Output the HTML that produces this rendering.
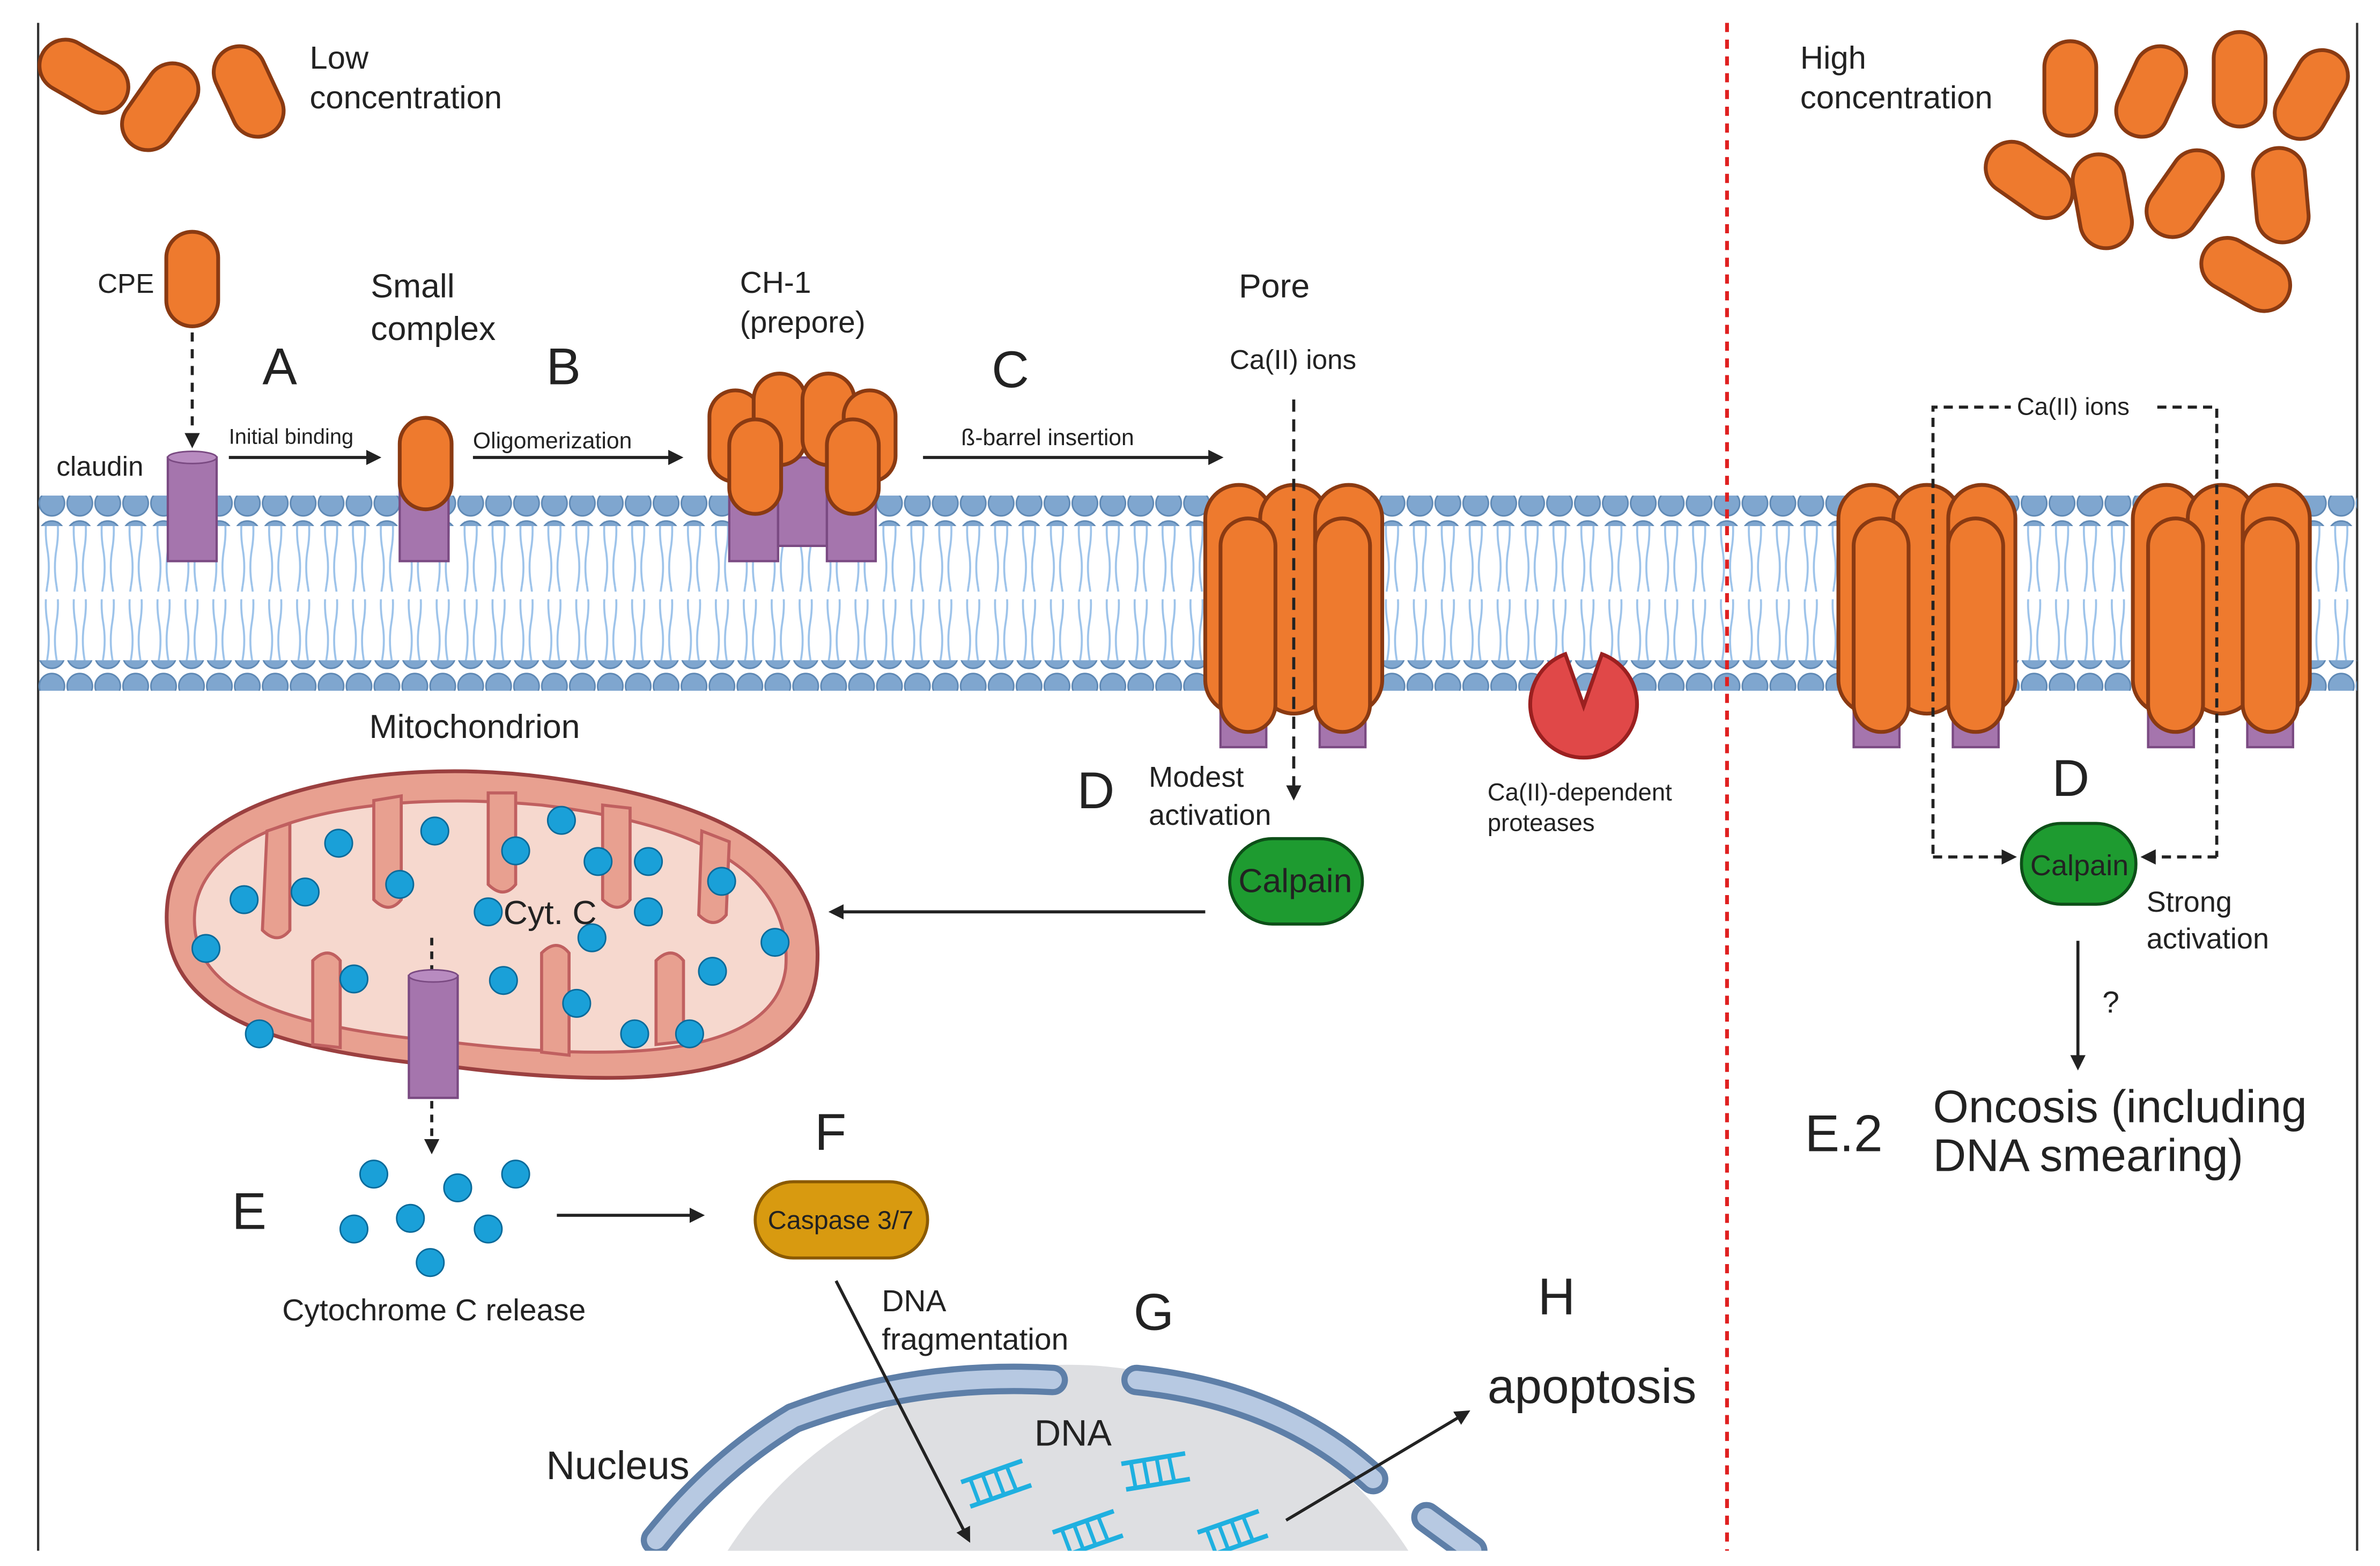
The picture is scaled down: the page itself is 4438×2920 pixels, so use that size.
<!DOCTYPE html>
<html><head><meta charset="utf-8"><style>
html,body{margin:0;padding:0;background:#fff;width:4438px;height:2920px;overflow:hidden;}
svg{display:block;overflow:hidden;}
text{font-family:"Liberation Sans",sans-serif;fill:#222;}
</style></head><body>
<svg width="4438" height="2920" viewBox="0 0 1560 1027" preserveAspectRatio="none" xmlns="http://www.w3.org/2000/svg">
<defs>
<pattern id="heads" x="25" y="0" width="18.3" height="20" patternUnits="userSpaceOnUse">
<circle cx="9" cy="10" r="8.3" fill="#7FA6CF" stroke="#5E88B4" stroke-width="1"/>
</pattern>
<pattern id="tails" x="25" y="0" width="18.3" height="48" patternUnits="userSpaceOnUse">
<path d="M6 0 Q4 12 6 24 T6 48 M12 0 Q14 12 12 24 T12 48" stroke="#9DC3EA" stroke-width="1.3" fill="none"/>
</pattern>
<marker id="ar" markerWidth="10" markerHeight="10" refX="8" refY="5" orient="auto" markerUnits="userSpaceOnUse">
<path d="M0 0 L10 5 L0 10 Z" fill="#222"/></marker>
<clipPath id="clip"><rect x="0" y="0" width="1560" height="1017"/></clipPath>
<g id="cap"><rect x="-17" y="-31" width="34" height="62" rx="17" fill="#EE7A2E" stroke="#8A3A12" stroke-width="2.5"/></g>
<g id="pore">
<rect x="10" y="120" width="30" height="52" fill="#A575AD" stroke="#7A4A82" stroke-width="1.5"/>
<rect x="75" y="120" width="30" height="52" fill="#A575AD" stroke="#7A4A82" stroke-width="1.5"/>
<rect x="0" y="0" width="44" height="150" rx="22" fill="#EE7A2E" stroke="#8A3A12" stroke-width="2.5"/>
<rect x="36" y="0" width="44" height="150" rx="22" fill="#EE7A2E" stroke="#8A3A12" stroke-width="2.5"/>
<rect x="72" y="0" width="44" height="150" rx="22" fill="#EE7A2E" stroke="#8A3A12" stroke-width="2.5"/>
<rect x="10" y="22" width="36" height="140" rx="18" fill="#EE7A2E" stroke="#8A3A12" stroke-width="2.5"/>
<rect x="72" y="22" width="36" height="140" rx="18" fill="#EE7A2E" stroke="#8A3A12" stroke-width="2.5"/>
</g>
<g id="dna"><path d="M0 0 L40 -14 M6 16 L46 2" stroke="#1FB0E0" stroke-width="3"/>
<path d="M6 -2 L12 14 M14 -5 L20 11 M22 -8 L28 8 M30 -10 L36 5" stroke="#1FB0E0" stroke-width="2.5"/></g>
</defs>
<rect width="1560" height="1027" fill="#fff"/>
<g clip-path="url(#clip)">
<line x1="25" y1="15" x2="25" y2="1017" stroke="#333" stroke-width="1.5"/>
<line x1="1545" y1="15" x2="1545" y2="1017" stroke="#333" stroke-width="1.5"/>
<rect x="25" y="342" width="1520" height="46" fill="url(#tails)"/>
<rect x="25" y="393" width="1520" height="44" fill="url(#tails)"/>
<rect x="25" y="325" width="1520" height="20" fill="url(#heads)"/>
<rect x="25" y="433" width="1520" height="20" fill="url(#heads)"/>
<line x1="1132" y1="15" x2="1132" y2="1017" stroke="#E02020" stroke-width="2.5" stroke-dasharray="6,5"/>

<use href="#cap" transform="translate(55,50) rotate(-60)"/>
<use href="#cap" transform="translate(105,70) rotate(35)"/>
<use href="#cap" transform="translate(163,60) rotate(-25)"/>
<text x="203" y="45" font-size="21">Low</text>
<text x="203" y="71" font-size="21">concentration</text>

<text x="64" y="192" font-size="18">CPE</text>
<use href="#cap" transform="translate(126,183)"/>
<line x1="126" y1="218" x2="126" y2="292" stroke="#222" stroke-width="2" stroke-dasharray="6,5" marker-end="url(#ar)"/>
<text x="37" y="312" font-size="18">claudin</text>
<rect x="110" y="300" width="32" height="68" fill="#A575AD" stroke="#7A4A82" stroke-width="1.5"/>
<ellipse cx="126" cy="300" rx="16" ry="4" fill="#B88BC0" stroke="#7A4A82"/>
<text x="172" y="252" font-size="34">A</text>
<text x="150" y="291" font-size="14">Initial binding</text>
<line x1="150" y1="300" x2="248" y2="300" stroke="#222" stroke-width="2" marker-end="url(#ar)"/>

<text x="243" y="195" font-size="22">Small</text>
<text x="243" y="223" font-size="22">complex</text>
<rect x="262" y="320" width="32" height="48" fill="#A575AD" stroke="#7A4A82" stroke-width="1.5"/>
<rect x="262" y="274" width="34" height="60" rx="17" fill="#EE7A2E" stroke="#8A3A12" stroke-width="2.5"/>
<text x="358" y="252" font-size="34">B</text>
<text x="310" y="294" font-size="15">Oligomerization</text>
<line x1="310" y1="300" x2="446" y2="300" stroke="#222" stroke-width="2" marker-end="url(#ar)"/>

<text x="485" y="192" font-size="20">CH-1</text>
<text x="485" y="218" font-size="20">(prepore)</text>
<rect x="478" y="310" width="32" height="58" fill="#A575AD" stroke="#7A4A82" stroke-width="1.5"/>
<rect x="510" y="300" width="32" height="58" fill="#A575AD" stroke="#7A4A82" stroke-width="1.5"/>
<rect x="542" y="310" width="32" height="58" fill="#A575AD" stroke="#7A4A82" stroke-width="1.5"/>
<rect x="465" y="256" width="34" height="60" rx="17" fill="#EE7A2E" stroke="#8A3A12" stroke-width="2.5"/>
<rect x="494" y="245" width="34" height="60" rx="17" fill="#EE7A2E" stroke="#8A3A12" stroke-width="2.5"/>
<rect x="526" y="245" width="34" height="60" rx="17" fill="#EE7A2E" stroke="#8A3A12" stroke-width="2.5"/>
<rect x="553" y="256" width="34" height="60" rx="17" fill="#EE7A2E" stroke="#8A3A12" stroke-width="2.5"/>
<rect x="478" y="275" width="34" height="62" rx="17" fill="#EE7A2E" stroke="#8A3A12" stroke-width="2.5"/>
<rect x="542" y="275" width="34" height="62" rx="17" fill="#EE7A2E" stroke="#8A3A12" stroke-width="2.5"/>
<text x="650" y="254" font-size="34">C</text>
<text x="630" y="292" font-size="15">ß-barrel insertion</text>
<line x1="605" y1="300" x2="800" y2="300" stroke="#222" stroke-width="2" marker-end="url(#ar)"/>

<text x="812" y="195" font-size="22">Pore</text>
<text x="806" y="242" font-size="18">Ca(II) ions</text>
<use href="#pore" transform="translate(790,318)"/>
<line x1="848" y1="262" x2="848" y2="523" stroke="#222" stroke-width="2" stroke-dasharray="8,5" marker-end="url(#ar)"/>
<text x="706" y="530" font-size="34">D</text>
<text x="753" y="516" font-size="19">Modest</text>
<text x="753" y="541" font-size="19">activation</text>
<rect x="806" y="550" width="87" height="56" rx="28" fill="#1E9B30" stroke="#0D4F18" stroke-width="2"/>
<text x="849" y="585" font-size="22" text-anchor="middle" fill="#111">Calpain</text>
<line x1="790" y1="598" x2="545" y2="598" stroke="#222" stroke-width="2" marker-end="url(#ar)"/>

<path d="M1038 463 L1026 429 A35 35 0 1 0 1050 429 Z" fill="#E04848" stroke="#9B2020" stroke-width="2.5"/>
<text x="975" y="525" font-size="16">Ca(II)-dependent</text>
<text x="975" y="545" font-size="16">proteases</text>

<text x="242" y="484" font-size="22">Mitochondrion</text>
<path d="M110 590 C120 520 250 495 360 510 C470 525 545 560 535 640 C525 710 420 715 300 700 C190 690 100 670 110 590 Z" fill="#E8A090" stroke="#9B4040" stroke-width="2.5"/>
<path d="M128 595 C138 535 250 518 355 528 C455 540 520 570 515 635 C508 690 420 698 300 684 C195 675 120 655 128 595 Z" fill="#F6D8CE" stroke="#C06060" stroke-width="2"/>
<g fill="#E8A090" stroke="#C06060" stroke-width="2">
<path d="M175 545 L172 610 Q182 620 190 610 L190 540 Z"/>
<path d="M245 525 L245 590 Q255 600 263 590 L263 522 Z"/>
<path d="M320 520 L320 580 Q330 590 338 580 L338 520 Z"/>
<path d="M395 528 L395 590 Q405 600 413 590 L413 530 Z"/>
<path d="M460 545 L458 600 Q468 610 476 600 L478 552 Z"/>
<path d="M205 685 L205 630 Q215 620 223 630 L223 687 Z"/>
<path d="M355 690 L355 625 Q365 615 373 625 L373 692 Z"/>
<path d="M430 685 L430 630 Q440 620 448 630 L448 683 Z"/>
</g>
<g fill="#1AA0D8" stroke="#0A6A9A" stroke-width="1">
<circle cx="222" cy="553" r="9"/><circle cx="285" cy="545" r="9"/><circle cx="338" cy="558" r="9"/><circle cx="368" cy="538" r="9"/>
<circle cx="392" cy="565" r="9"/><circle cx="425" cy="565" r="9"/><circle cx="473" cy="578" r="9"/><circle cx="160" cy="590" r="9"/>
<circle cx="200" cy="585" r="9"/><circle cx="262" cy="580" r="9"/><circle cx="320" cy="598" r="9"/><circle cx="425" cy="598" r="9"/>
<circle cx="508" cy="618" r="9"/><circle cx="135" cy="622" r="9"/><circle cx="388" cy="615" r="9"/><circle cx="232" cy="642" r="9"/>
<circle cx="330" cy="643" r="9"/><circle cx="467" cy="637" r="9"/><circle cx="378" cy="658" r="9"/><circle cx="170" cy="678" r="9"/>
<circle cx="416" cy="678" r="9"/><circle cx="452" cy="678" r="9"/>
</g>
<text x="330" y="606" font-size="22">Cyt. C</text>
<line x1="283" y1="615" x2="283" y2="640" stroke="#222" stroke-width="2" stroke-dasharray="5,4"/>
<rect x="268" y="640" width="32" height="80" fill="#A575AD" stroke="#7A4A82" stroke-width="1.5"/>
<ellipse cx="284" cy="640" rx="16" ry="4" fill="#B88BC0" stroke="#7A4A82"/>
<line x1="283" y1="722" x2="283" y2="755" stroke="#222" stroke-width="2" stroke-dasharray="5,4" marker-end="url(#ar)"/>

<text x="152" y="806" font-size="34">E</text>
<g fill="#1AA0D8" stroke="#0A6A9A" stroke-width="1">
<circle cx="245" cy="770" r="9"/><circle cx="300" cy="779" r="9"/><circle cx="338" cy="770" r="9"/><circle cx="232" cy="806" r="9"/>
<circle cx="269" cy="799" r="9"/><circle cx="320" cy="806" r="9"/><circle cx="282" cy="828" r="9"/>
</g>
<text x="185" y="866" font-size="20">Cytochrome C release</text>
<line x1="365" y1="797" x2="460" y2="797" stroke="#222" stroke-width="2" marker-end="url(#ar)"/>
<text x="534" y="754" font-size="34">F</text>
<rect x="495" y="775" width="113" height="50" rx="25" fill="#D89A10" stroke="#8B5A00" stroke-width="2"/>
<text x="551" y="806" font-size="17" text-anchor="middle" fill="#111">Caspase 3/7</text>

<circle cx="700" cy="1160" r="265" fill="#DEDFE2"/>
<g fill="none" stroke-linecap="round">
<path d="M430 1010 Q470 960 520 930" stroke="#5E7FA8" stroke-width="20"/>
<path d="M520 930 Q600 900 690 905" stroke="#5E7FA8" stroke-width="20"/>
<path d="M745 905 Q840 915 900 970" stroke="#5E7FA8" stroke-width="20"/>
<path d="M935 995 L965 1017" stroke="#5E7FA8" stroke-width="20"/>
<path d="M430 1010 Q470 960 520 930" stroke="#B7C9E2" stroke-width="12"/>
<path d="M520 930 Q600 900 690 905" stroke="#B7C9E2" stroke-width="12"/>
<path d="M745 905 Q840 915 900 970" stroke="#B7C9E2" stroke-width="12"/>
<path d="M935 995 L965 1017" stroke="#B7C9E2" stroke-width="12"/>
</g>
<text x="358" y="970" font-size="26">Nucleus</text>
<text x="678" y="948" font-size="24">DNA</text>
<use href="#dna" transform="translate(630,972)"/>
<use href="#dna" transform="translate(735,960) rotate(10)"/>
<use href="#dna" transform="translate(690,1005)"/>
<use href="#dna" transform="translate(785,1005)"/>
<text x="578" y="860" font-size="20">DNA</text>
<text x="578" y="885" font-size="20">fragmentation</text>
<text x="743" y="872" font-size="34">G</text>
<line x1="548" y1="840" x2="635" y2="1010" stroke="#222" stroke-width="2" marker-end="url(#ar)"/>
<text x="1008" y="862" font-size="34">H</text>
<text x="975" y="920" font-size="32">apoptosis</text>
<line x1="843" y1="997" x2="962" y2="926" stroke="#222" stroke-width="2" marker-end="url(#ar)"/>

<text x="1180" y="45" font-size="21">High</text>
<text x="1180" y="71" font-size="21">concentration</text>
<use href="#cap" transform="translate(1357,58) rotate(0)"/>
<use href="#cap" transform="translate(1410,60) rotate(25)"/>
<use href="#cap" transform="translate(1468,52) rotate(0)"/>
<use href="#cap" transform="translate(1515,62) rotate(30)"/>
<use href="#cap" transform="translate(1330,118) rotate(-55)"/>
<use href="#cap" transform="translate(1378,132) rotate(-10)"/>
<use href="#cap" transform="translate(1432,127) rotate(35)"/>
<use href="#cap" transform="translate(1495,128) rotate(-5)"/>
<use href="#cap" transform="translate(1472,180) rotate(-60)"/>

<use href="#pore" transform="translate(1205,318)"/>
<use href="#pore" transform="translate(1398,318)"/>
<path d="M1267 560 L1267 267 L1453 267 L1453 562" fill="none" stroke="#222" stroke-width="2" stroke-dasharray="6,4"/>
<rect x="1318" y="256" width="96" height="22" fill="#fff"/>
<text x="1322" y="272" font-size="16">Ca(II) ions</text>
<line x1="1267" y1="562" x2="1320" y2="562" stroke="#222" stroke-width="2" stroke-dasharray="6,4" marker-end="url(#ar)"/>
<line x1="1453" y1="562" x2="1405" y2="562" stroke="#222" stroke-width="2" stroke-dasharray="6,4" marker-end="url(#ar)"/>
<text x="1345" y="522" font-size="34">D</text>
<rect x="1325" y="540" width="75" height="53" rx="26" fill="#1E9B30" stroke="#0D4F18" stroke-width="2"/>
<text x="1363" y="574" font-size="19" text-anchor="middle" fill="#111">Calpain</text>
<text x="1407" y="598" font-size="19">Strong</text>
<text x="1407" y="622" font-size="19">activation</text>
<line x1="1362" y1="617" x2="1362" y2="700" stroke="#222" stroke-width="2" marker-end="url(#ar)"/>
<text x="1378" y="664" font-size="20">?</text>
<text x="1183" y="755" font-size="34">E.2</text>
<text x="1267" y="736" font-size="30">Oncosis (including</text>
<text x="1267" y="768" font-size="30">DNA smearing)</text>
</g>
</svg>
</body></html>
